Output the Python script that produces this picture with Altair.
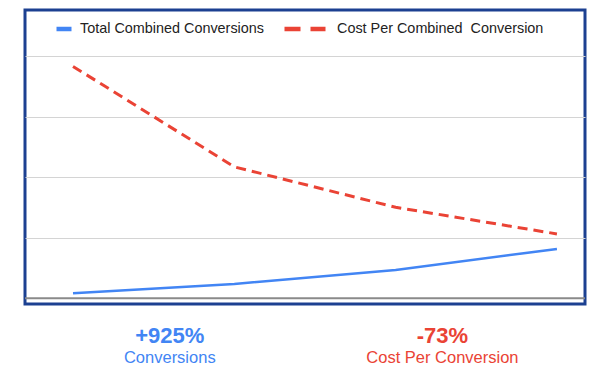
import altair as alt
import pandas as pd

# ---- data ----
periods = [0, 1, 2, 3]
conversions = [2.1, 5.9, 11.7, 20.4]
cost_per_conversion = [95.8, 54.3, 37.6, 26.6]
series_names = ["Total Combined Conversions", "Cost Per Combined\u00a0 Conversion"]
grid_values = [25, 50, 75, 100]
baseline_value = [0]

ann_x = [0.60, 2.29]
ann_big = ["+925%", "-73%"]
ann_small = ["Conversions", "Cost Per Conversion"]
ann_big_y = [-18.5, -18.5]
ann_small_y = [-26.9, -26.9]
ann_colors = ["#4285f4", "#ea4335"]

BLUE = "#4285f4"
RED = "#ea4335"
BORDER = "#1c4091"

df_blue = pd.DataFrame({"period": periods, "value": conversions,
                        "series": [series_names[0]] * len(periods)})
df_red = pd.DataFrame({"period": periods, "value": cost_per_conversion,
                       "series": [series_names[1]] * len(periods)})
df_base = pd.DataFrame({"value": baseline_value})
df_ann = pd.DataFrame({"x": ann_x, "big": ann_big, "small": ann_small,
                       "by": ann_big_y, "sy": ann_small_y, "c": ann_colors})

xs = alt.Scale(domain=[-0.2976, 3.174], nice=False, zero=False)
ys = alt.Scale(domain=[-2.36, 119.1], nice=False, zero=False)

x_enc = alt.X("period:Q", scale=xs, axis=None)
y_enc = alt.Y("value:Q", scale=ys,
              axis=alt.Axis(values=grid_values, labels=False, ticks=False,
                            domain=False, title=None, grid=True,
                            gridColor="#d4d4d4", gridWidth=1))

blue = alt.Chart(df_blue).mark_line(strokeWidth=2.5).encode(
    x=x_enc, y=y_enc,
    color=alt.Color("series:N",
                    scale=alt.Scale(domain=[series_names[0]], range=[BLUE]),
                    legend=alt.Legend(orient="none", legendX=29, legendY=9,
                                      title=None, symbolType="stroke",
                                      symbolSize=225, symbolStrokeWidth=4.5,
                                      labelFontSize=14.4, labelColor="#222222",
                                      labelOffset=6, labelLimit=300)),
)

red = alt.Chart(df_red).mark_line(strokeWidth=3, strokeDash=[10, 6]).encode(
    x=alt.X("period:Q", scale=xs, axis=None),
    y=alt.Y("value:Q", scale=ys),
    color=alt.Color("series:N",
                    scale=alt.Scale(domain=[series_names[1]], range=[RED]),
                    legend=alt.Legend(orient="none", legendX=257, legendY=-4,
                                      title=None, symbolType="stroke",
                                      symbolSize=1681, symbolStrokeWidth=4.5,
                                      symbolDash=[16, 10],
                                      labelFontSize=14.4, labelColor="#222222",
                                      labelOffset=9, labelLimit=300)),
)

base = alt.Chart(df_base).mark_rule(color="#8a8a8a", strokeWidth=2).encode(
    y=alt.Y("value:Q", scale=ys)
)

big = alt.Chart(df_ann).mark_text(fontSize=22, fontWeight="bold", align="center",
                                  baseline="alphabetic").encode(
    x=alt.X("x:Q", scale=xs, axis=None),
    y=alt.Y("by:Q", scale=ys),
    text="big:N",
    color=alt.Color("c:N", scale=None),
)

small = alt.Chart(df_ann).mark_text(fontSize=16.5, align="center",
                                    baseline="alphabetic").encode(
    x=alt.X("x:Q", scale=xs, axis=None),
    y=alt.Y("sy:Q", scale=ys),
    text="small:N",
    color=alt.Color("c:N", scale=None),
)

chart = alt.layer(base, blue, red, big, small).resolve_scale(
    color="independent"
).properties(
    width=560, height=294,
    autosize=alt.AutoSizeParams(type="none"),
    padding={"left": 17, "top": 2, "right": 13, "bottom": 62},
).configure(font="Liberation Sans").configure_view(
    stroke=BORDER, strokeWidth=3
)

chart.save("out.html", embed_options={"renderer": "svg", "actions": False})
